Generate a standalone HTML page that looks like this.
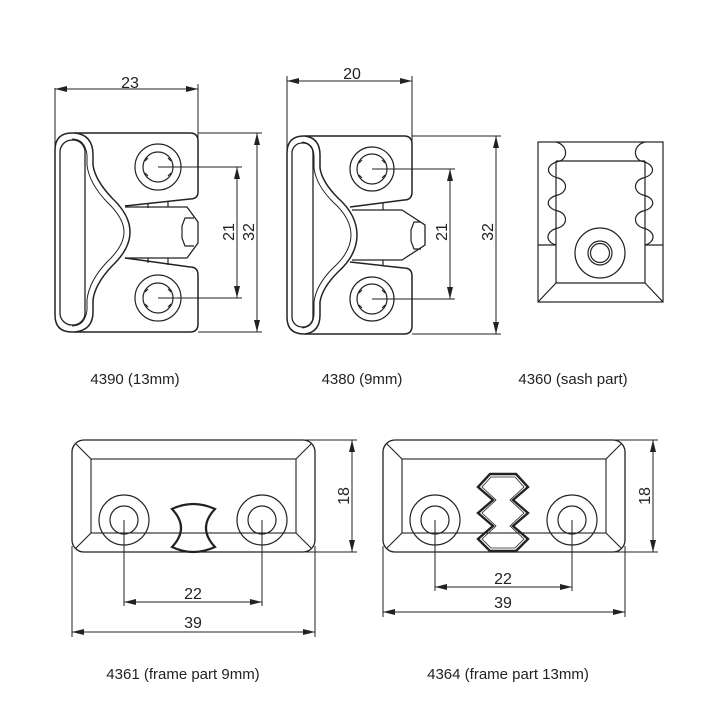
<!DOCTYPE html>
<html><head><meta charset="utf-8"><style>html,body{margin:0;padding:0;background:#fff}svg{display:block}</style></head>
<body>
<svg width="720" height="720" viewBox="0 0 720 720" xmlns="http://www.w3.org/2000/svg" font-family="Liberation Sans, sans-serif" fill="none" stroke="#222" stroke-width="1.2">
<defs>
<marker id="a" viewBox="0 0 12 6" refX="12" refY="3" markerWidth="12" markerHeight="6" orient="auto-start-reverse" markerUnits="userSpaceOnUse"><path d="M0,0 L12,3 L0,6 Z" fill="#222" stroke="none"/></marker>
</defs>

<!-- 4390 -->
<g>
<line x1="55" y1="88" x2="55" y2="150" stroke-width="1"/>
<line x1="198" y1="84" x2="198" y2="141" stroke-width="1"/>
<line x1="55" y1="89" x2="198" y2="89" marker-start="url(#a)" marker-end="url(#a)" stroke-width="1"/>
<text x="130" y="88" font-size="16" fill="#222" stroke="none" text-anchor="middle">23</text>
<path d="M72,133 H190 Q198,133 198,141 V192 Q198,199 190,199 L125,206" stroke-width="1.5"/>
<path d="M125,258 L190,267 Q198,267 198,275 V324 Q198,332 190,332 H72 Q55,332 55,315 V150 Q55,133 72,133" stroke-width="1.5"/>
<path d="M75,133 Q93,135 93,155 V165 Q95,180 112,198 Q130,215 130,232 Q130,249 112,266 Q95,284 93,300 V312 Q93,330 75,332" stroke-width="1.5"/>
<path d="M72,139 Q85,139 87,155 V165 Q89,183 107,202 Q124,218 124,232 Q124,246 107,262 Q89,281 87,300 V310 Q85,326 72,326" stroke-width="1"/>
<rect x="60" y="140" width="25" height="185" rx="12" stroke-width="1.3"/>
<path d="M125,207 H187 L198,222 V243 L187,258 H125" stroke-width="1.3"/>
<path d="M194,218 H185 L182,226 V238 L185,246 H194" stroke-width="1.2"/>
<line x1="148" y1="203" x2="148" y2="208"/><line x1="168" y1="201" x2="168" y2="207"/>
<line x1="148" y1="258" x2="148" y2="263"/><line x1="168" y1="258" x2="168" y2="265"/>
<circle cx="158" cy="167" r="23"/><circle cx="158" cy="167" r="15"/>
<circle cx="158" cy="298" r="23"/><circle cx="158" cy="298" r="15"/>
<path d="M148,158 l-3,3 M148,176 l-3,-3 M168,158 l3,3 M168,176 l3,-3 M148,289 l-3,3 M148,307 l-3,-3 M168,289 l3,3 M168,307 l3,-3"/>
<line x1="158" y1="167" x2="242" y2="167" stroke-width="1"/>
<line x1="158" y1="298" x2="242" y2="298" stroke-width="1"/>
<line x1="237" y1="167" x2="237" y2="298" marker-start="url(#a)" marker-end="url(#a)" stroke-width="1"/>
<line x1="198" y1="133" x2="262" y2="133" stroke-width="1"/>
<line x1="198" y1="332" x2="262" y2="332" stroke-width="1"/>
<line x1="257" y1="133" x2="257" y2="332" marker-start="url(#a)" marker-end="url(#a)" stroke-width="1"/>
<text transform="translate(234,232) rotate(-90)" font-size="16" fill="#222" stroke="none" text-anchor="middle">21</text>
<text transform="translate(254,232) rotate(-90)" font-size="16" fill="#222" stroke="none" text-anchor="middle">32</text>
<text x="135" y="384" font-size="15" fill="#222" stroke="none" text-anchor="middle">4390 (13mm)</text>
</g>

<!-- 4380 -->
<g>
<line x1="287" y1="76" x2="287" y2="150" stroke-width="1"/>
<line x1="412" y1="76" x2="412" y2="144" stroke-width="1"/>
<line x1="287" y1="81" x2="412" y2="81" marker-start="url(#a)" marker-end="url(#a)" stroke-width="1"/>
<text x="352" y="79" font-size="16" fill="#222" stroke="none" text-anchor="middle">20</text>
<path d="M304,136 H404 Q412,136 412,144 V192 Q412,200 404,200 L350,207" stroke-width="1.5"/>
<path d="M350,262 L404,268 Q412,268 412,276 V326 Q412,334 404,334 H304 Q287,334 287,317 V153 Q287,136 304,136" stroke-width="1.5"/>
<path d="M305,136 Q320,138 320,155 V168 Q322,182 338,198 Q357,215 357,235 Q357,255 338,272 Q322,288 320,302 V315 Q320,332 305,334" stroke-width="1.5"/>
<path d="M302,142 Q314,143 314,157 V168 Q316,185 333,202 Q351,218 351,235 Q351,252 333,268 Q316,285 314,302 V313 Q314,327 302,328" stroke-width="1"/>
<rect x="292" y="143" width="21" height="184" rx="10" stroke-width="1.3"/>
<path d="M352,210 H402 L425,225 V245 L402,260 H352" stroke-width="1.3"/>
<path d="M421,222 H414 L411,230 V241 L414,249 H421" stroke-width="1.2"/>
<line x1="383" y1="203" x2="383" y2="210"/><line x1="383" y1="260" x2="383" y2="266"/>
<circle cx="372" cy="169" r="22"/><circle cx="372" cy="169" r="15"/>
<circle cx="372" cy="299" r="22"/><circle cx="372" cy="299" r="15"/>
<path d="M362,160 l-3,3 M362,178 l-3,-3 M382,160 l3,3 M382,178 l3,-3 M362,290 l-3,3 M362,308 l-3,-3 M382,290 l3,3 M382,308 l3,-3"/>
<line x1="372" y1="169" x2="455" y2="169" stroke-width="1"/>
<line x1="372" y1="299" x2="455" y2="299" stroke-width="1"/>
<line x1="450" y1="169" x2="450" y2="299" marker-start="url(#a)" marker-end="url(#a)" stroke-width="1"/>
<line x1="412" y1="136" x2="501" y2="136" stroke-width="1"/>
<line x1="412" y1="334" x2="501" y2="334" stroke-width="1"/>
<line x1="496" y1="136" x2="496" y2="334" marker-start="url(#a)" marker-end="url(#a)" stroke-width="1"/>
<text transform="translate(447,232) rotate(-90)" font-size="16" fill="#222" stroke="none" text-anchor="middle">21</text>
<text transform="translate(493,232) rotate(-90)" font-size="16" fill="#222" stroke="none" text-anchor="middle">32</text>
<text x="362" y="384" font-size="15" fill="#222" stroke="none" text-anchor="middle">4380 (9mm)</text>
</g>

<!-- 4360 -->
<g stroke-width="1.2">
<rect x="538" y="142" width="125" height="160"/>
<path d="M538,245 H556 V283 H645 V245 H663"/>
<path d="M538,302 L556,283 M663,302 L645,283"/>
<line x1="556" y1="161" x2="645" y2="161"/>
<path d="M556,142 C568,145 568,158 560,161 C545,164 545,175 558,178 C568,181 568,192 558,195 C545,198 545,208 558,211 C568,214 568,225 558,228 C545,231 545,242 556,245"/>
<path d="M645,142 C633,145 633,158 641,161 C656,164 656,175 643,178 C633,181 633,192 643,195 C656,198 656,208 643,211 C633,214 633,225 643,228 C656,231 656,242 645,245"/>
<line x1="556" y1="161" x2="556" y2="245"/>
<line x1="645" y1="161" x2="645" y2="245"/>
<circle cx="600" cy="253" r="25"/>
<circle cx="600" cy="253" r="12"/>
<circle cx="600" cy="253" r="9.5"/>
<text x="573" y="384" font-size="15" fill="#222" stroke="none" text-anchor="middle">4360 (sash part)</text>
</g>

<!-- 4361 -->
<g>
<rect x="72" y="440" width="243" height="112" rx="12" stroke-width="1.3"/>
<rect x="91" y="459" width="205" height="74" stroke-width="1.1"/>
<path d="M76,444 L91,459 M311,444 L296,459 M76,548 L91,533 M311,548 L296,533" stroke-width="1.1"/>
<circle cx="124" cy="520" r="25"/><circle cx="124" cy="520" r="14"/>
<circle cx="262" cy="520" r="25"/><circle cx="262" cy="520" r="14"/>
<path d="M172,509 Q193,499 215,509 Q197,528 215,547 Q193,557 172,547 Q190,528 172,509 Z" stroke-width="2.2"/>
<line x1="124" y1="520" x2="124" y2="606" stroke-width="1"/>
<line x1="262" y1="520" x2="262" y2="606" stroke-width="1"/>
<line x1="124" y1="602" x2="262" y2="602" marker-start="url(#a)" marker-end="url(#a)" stroke-width="1"/>
<text x="193" y="599" font-size="16" fill="#222" stroke="none" text-anchor="middle">22</text>
<line x1="72" y1="546" x2="72" y2="637" stroke-width="1"/>
<line x1="315" y1="546" x2="315" y2="637" stroke-width="1"/>
<line x1="72" y1="632" x2="315" y2="632" marker-start="url(#a)" marker-end="url(#a)" stroke-width="1"/>
<text x="193" y="628" font-size="16" fill="#222" stroke="none" text-anchor="middle">39</text>
<line x1="305" y1="440" x2="357" y2="440" stroke-width="1"/>
<line x1="305" y1="552" x2="357" y2="552" stroke-width="1"/>
<line x1="352" y1="440" x2="352" y2="552" marker-start="url(#a)" marker-end="url(#a)" stroke-width="1"/>
<text transform="translate(349,496) rotate(-90)" font-size="16" fill="#222" stroke="none" text-anchor="middle">18</text>
<text x="183" y="679" font-size="15" fill="#222" stroke="none" text-anchor="middle">4361 (frame part 9mm)</text>
</g>

<!-- 4364 -->
<g>
<rect x="383" y="440" width="242" height="112" rx="12" stroke-width="1.3"/>
<rect x="402" y="459" width="204" height="74" stroke-width="1.1"/>
<path d="M387,444 L402,459 M621,444 L606,459 M387,548 L402,533 M621,548 L606,533" stroke-width="1.1"/>
<circle cx="435" cy="520" r="25"/><circle cx="435" cy="520" r="14"/>
<circle cx="572" cy="520" r="25"/><circle cx="572" cy="520" r="14"/>
<path d="M490,474 H516 L528,487 L513,500 L528,513 L513,526 L528,539 L516,551 H490 L478,539 L493,526 L478,513 L493,500 L478,487 Z" stroke-width="2.4"/>
<path d="M491,477 H515 L524,487 L510,500 L524,513 L510,526 L524,539 L515,548 H491 L482,539 L496,526 L482,513 L496,500 L482,487 Z" stroke-width="0.8"/>
<line x1="435" y1="520" x2="435" y2="591" stroke-width="1"/>
<line x1="572" y1="520" x2="572" y2="591" stroke-width="1"/>
<line x1="435" y1="587" x2="572" y2="587" marker-start="url(#a)" marker-end="url(#a)" stroke-width="1"/>
<text x="503" y="584" font-size="16" fill="#222" stroke="none" text-anchor="middle">22</text>
<line x1="383" y1="546" x2="383" y2="617" stroke-width="1"/>
<line x1="625" y1="546" x2="625" y2="617" stroke-width="1"/>
<line x1="383" y1="612" x2="625" y2="612" marker-start="url(#a)" marker-end="url(#a)" stroke-width="1"/>
<text x="503" y="608" font-size="16" fill="#222" stroke="none" text-anchor="middle">39</text>
<line x1="615" y1="440" x2="658" y2="440" stroke-width="1"/>
<line x1="615" y1="552" x2="658" y2="552" stroke-width="1"/>
<line x1="653" y1="440" x2="653" y2="552" marker-start="url(#a)" marker-end="url(#a)" stroke-width="1"/>
<text transform="translate(650,496) rotate(-90)" font-size="16" fill="#222" stroke="none" text-anchor="middle">18</text>
<text x="508" y="679" font-size="15" fill="#222" stroke="none" text-anchor="middle">4364 (frame part 13mm)</text>
</g>
</svg>
</body></html>
